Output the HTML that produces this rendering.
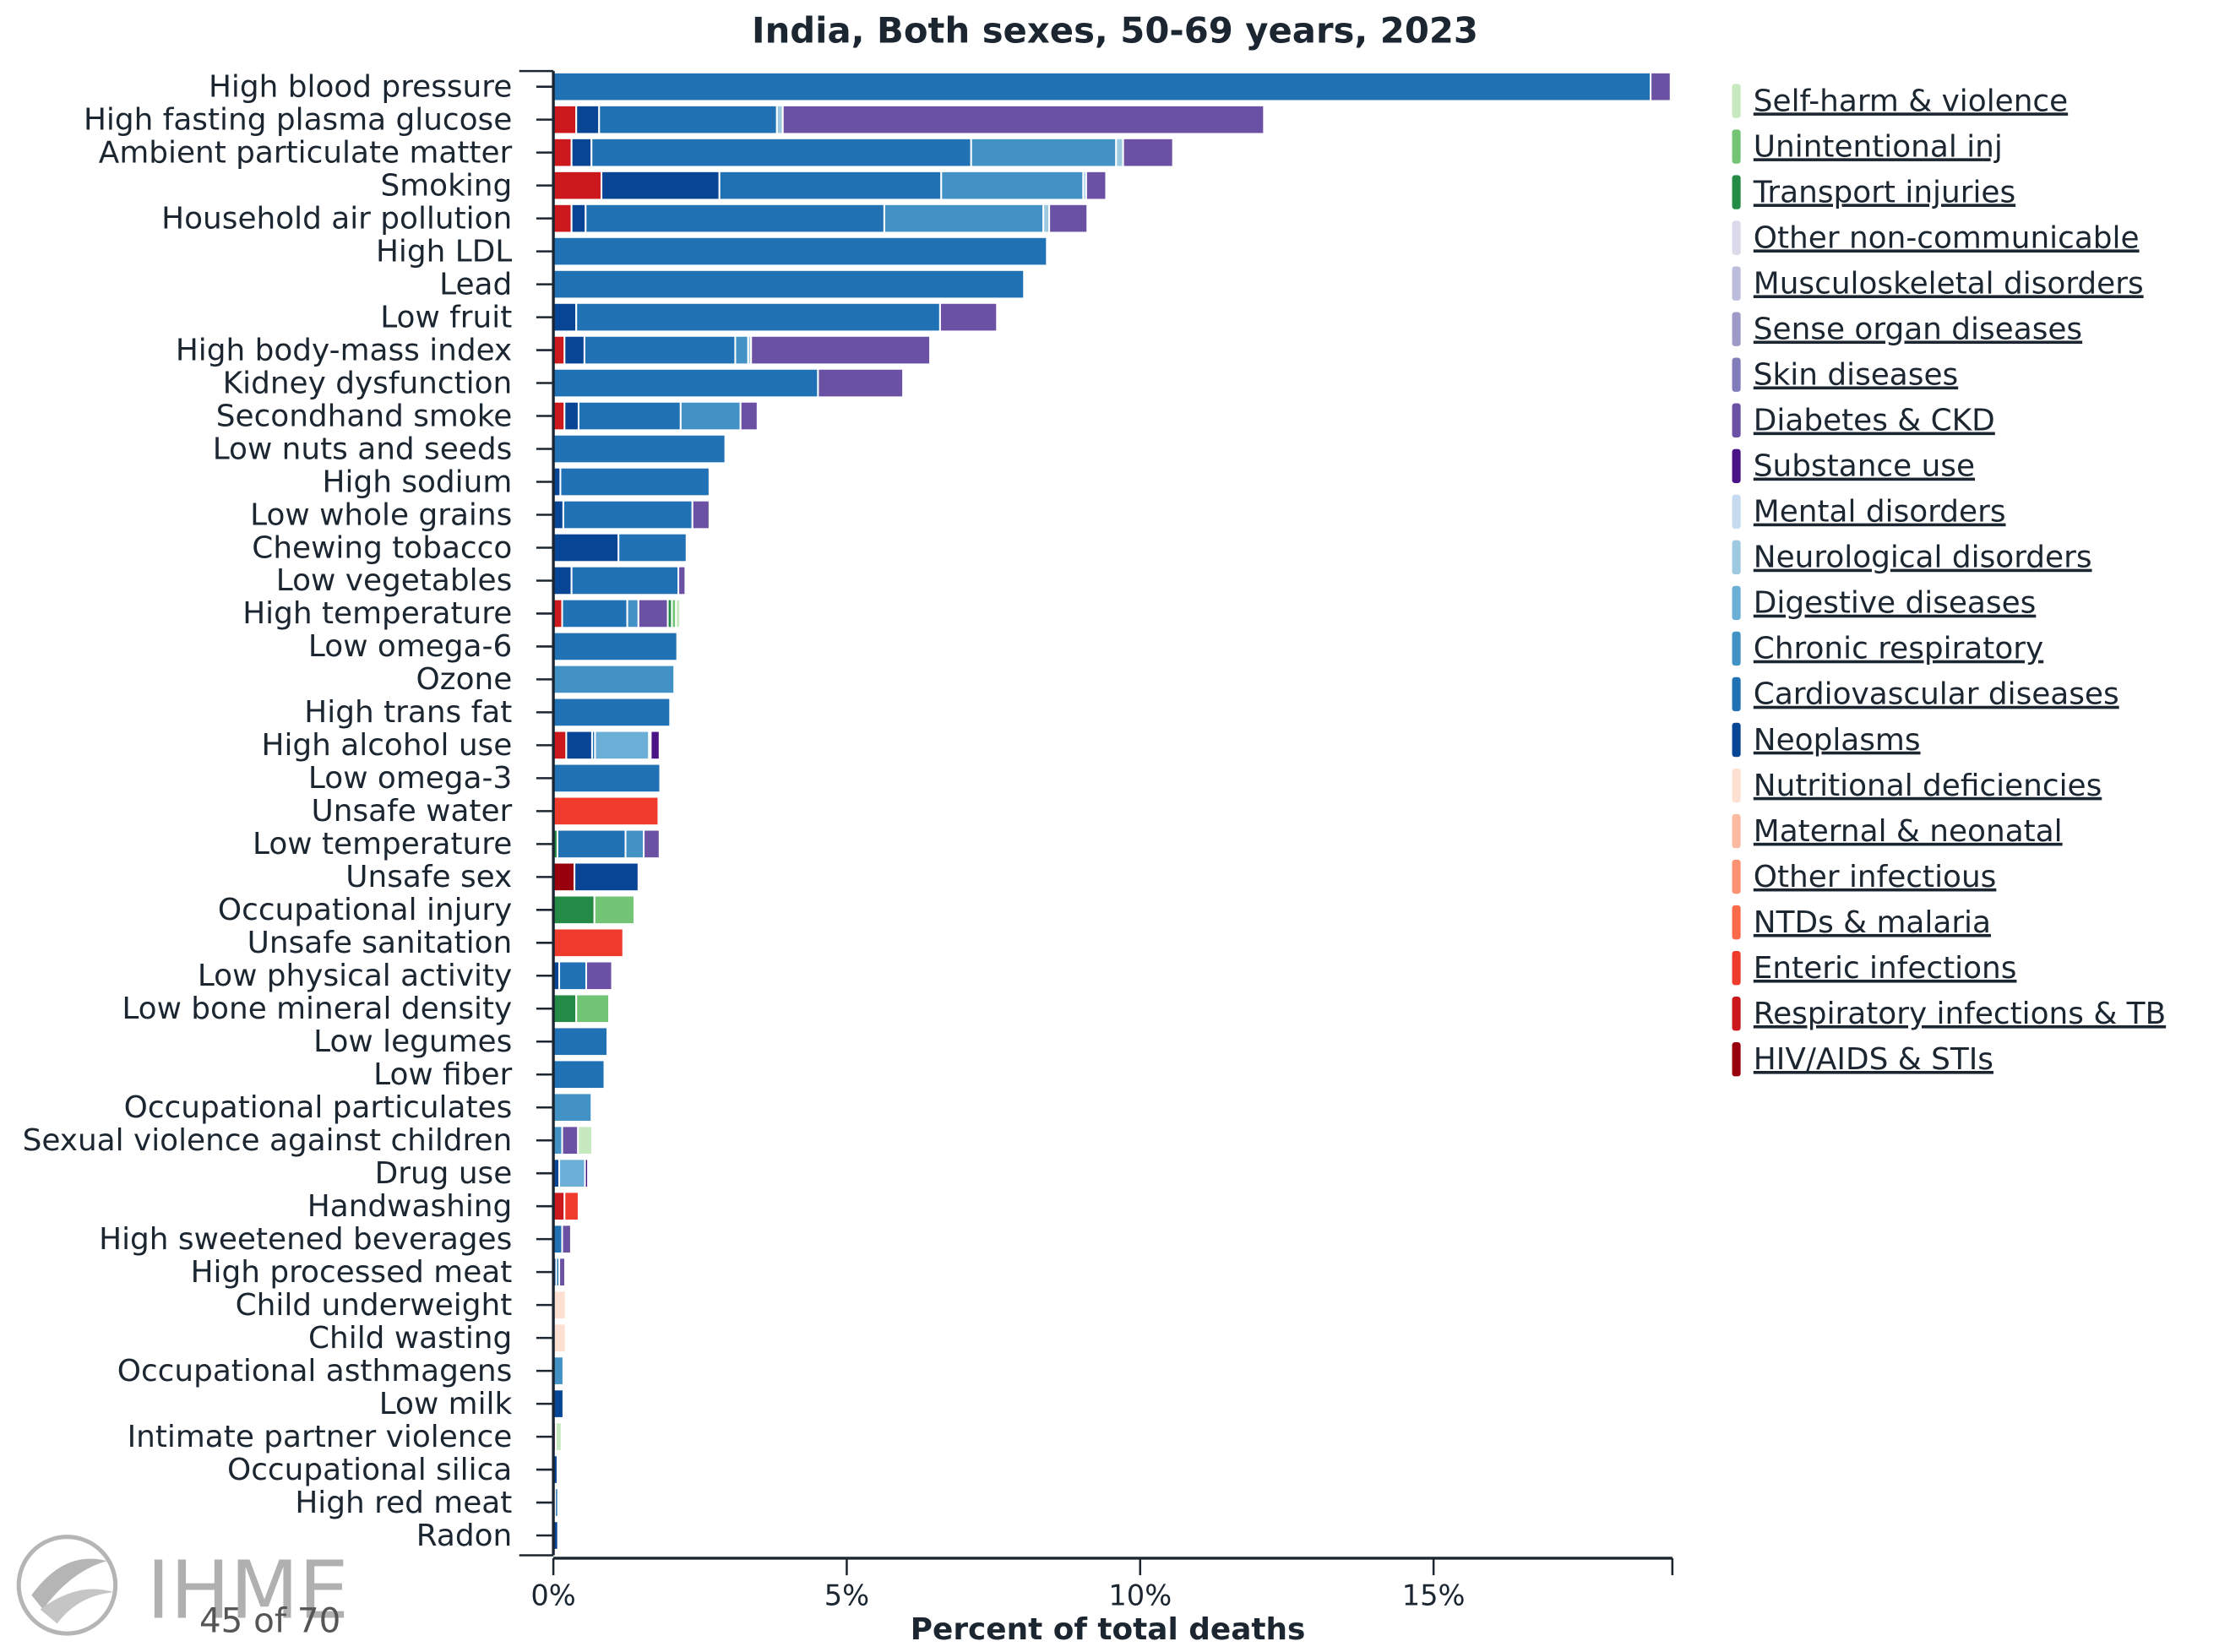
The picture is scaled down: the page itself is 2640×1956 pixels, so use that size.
<!DOCTYPE html>
<html><head><meta charset="utf-8">
<style>
html,body{margin:0;padding:0;background:#fff;}
svg{display:block;}
text{font-family:"DejaVu Sans","Liberation Sans",sans-serif;fill:#1b2631;}
</style></head>
<body>
<svg id="chart" width="2640" height="1956" viewBox="0 0 1568 1162" xmlns="http://www.w3.org/2000/svg">
<text x="784" y="30" text-anchor="middle" font-size="24.8" font-weight="bold">India, Both sexes, 50-69 years, 2023</text>
<g id="bars"></g>
<g id="yaxis"></g>
<g id="xaxis"></g>
<g id="legend"></g>
<text x="779" y="1153" text-anchor="middle" font-size="21.3" font-weight="bold">Percent of total deaths</text>
<g>
<circle cx="47" cy="1115" r="34" fill="none" stroke="#b5b5b5" stroke-width="3"/>
<path d="M22 1122 Q45 1090 75 1098 Q50 1105 30 1132 Z" fill="#b5b5b5"/>
<path d="M28 1132 Q55 1112 80 1120 Q55 1122 40 1142 Z" fill="#c5c5c5"/>
<text x="103" y="1138" font-size="56" fill="#b0b0b0" style="fill:#b0b0b0">IHME</text>
</g>
<text x="140" y="1148" font-size="24" style="fill:#555">45 of 70</text>
</svg>
<script>
const causes = ["HIV/AIDS & STIs","Respiratory infections & TB","Enteric infections","NTDs & malaria","Other infectious","Maternal & neonatal","Nutritional deficiencies","Neoplasms","Cardiovascular diseases","Chronic respiratory","Digestive diseases","Neurological disorders","Mental disorders","Substance use","Diabetes & CKD","Skin diseases","Sense organ diseases","Musculoskeletal disorders","Other non-communicable","Transport injuries","Unintentional inj","Self-harm & violence"];
const causeColors = ["#99000d","#cb181d","#ef3b2c","#fb6a4a","#fc9272","#fcbba1","#fee0d2","#084594","#2171b5","#4292c6","#6baed6","#9ecae1","#c6dbef","#4a1486","#6a51a3","#807dba","#9e9ac8","#bcbddc","#dadaeb","#238b45","#74c476","#c7e9c0"];
const riskFactors = ["High blood pressure","High fasting plasma glucose","Ambient particulate matter","Smoking","Household air pollution","High LDL","Lead","Low fruit","High body-mass index","Kidney dysfunction","Secondhand smoke","Low nuts and seeds","High sodium","Low whole grains","Chewing tobacco","Low vegetables","High temperature","Low omega-6","Ozone","High trans fat","High alcohol use","Low omega-3","Unsafe water","Low temperature","Unsafe sex","Occupational injury","Unsafe sanitation","Low physical activity","Low bone mineral density","Low legumes","Low fiber","Occupational particulates","Sexual violence against children","Drug use","Handwashing","High sweetened beverages","High processed meat","Child underweight","Child wasting","Occupational asthmagens","Low milk","Intimate partner violence","Occupational silica","High red meat","Radon"];
// [cause index, percent]
const segments = [
[[8,18.7],[14,0.34]],
[[1,0.39],[7,0.39],[8,3.03],[11,0.1],[14,8.2]],
[[1,0.31],[7,0.34],[8,6.47],[9,2.47],[11,0.12],[14,0.85]],
[[1,0.82],[7,2.01],[8,3.78],[9,2.42],[11,0.05],[14,0.34]],
[[1,0.31],[7,0.24],[8,5.09],[9,2.71],[11,0.1],[14,0.65]],
[[8,8.41]],
[[8,8.02]],
[[7,0.39],[8,6.2],[14,0.97]],
[[1,0.19],[7,0.34],[8,2.57],[9,0.22],[11,0.05],[14,3.05]],
[[8,4.51],[14,1.45]],
[[1,0.19],[7,0.24],[8,1.74],[9,1.02],[14,0.29]],
[[8,2.93]],
[[7,0.12],[8,2.54]],
[[7,0.17],[8,2.2],[14,0.29]],
[[7,1.11],[8,1.16]],
[[7,0.31],[8,1.82],[14,0.12]],
[[1,0.15],[8,1.11],[9,0.19],[14,0.5],[19,0.07],[20,0.07],[21,0.07]],
[[8,2.11]],
[[9,2.06]],
[[8,1.99]],
[[1,0.22],[7,0.44],[8,0.05],[10,0.92],[11,0.03],[13,0.15]],
[[8,1.82]],
[[2,1.79]],
[[19,0.07],[8,1.16],[9,0.31],[14,0.27]],
[[0,0.36],[7,1.09]],
[[19,0.7],[20,0.68]],
[[2,1.19]],
[[7,0.1],[8,0.46],[14,0.44]],
[[19,0.39],[20,0.56]],
[[8,0.92]],
[[8,0.87]],
[[9,0.65]],
[[9,0.15],[14,0.27],[21,0.24]],
[[7,0.1],[10,0.44],[13,0.05]],
[[1,0.19],[2,0.24]],
[[8,0.15],[14,0.15]],
[[7,0.05],[8,0.05],[14,0.1]],
[[6,0.21]],
[[6,0.21]],
[[9,0.17]],
[[7,0.17]],
[[0,0.04],[21,0.1]],
[[7,0.07]],
[[7,0.03],[8,0.05]],
[[7,0.08]]
];
const xTicks = [0,5,10,15];
const xTickLabels = ["0%","5%","10%","15%"];
const xMax = 19.07;

const NS="http://www.w3.org/2000/svg";
const x0=389, x1=1176, yTop=61, rowStep=23.16, barH=20;
const xScale = v => x0 + v*(x1-x0)/xMax;
const yScale = i => yTop + i*rowStep;
function mk(tag, attrs, parent){const e=document.createElementNS(NS,tag);for(const k in attrs)e.setAttribute(k,attrs[k]);parent.appendChild(e);return e;}

const bars=document.getElementById('bars');
segments.forEach((row,i)=>{
  let acc=0;
  row.forEach(([c,v])=>{
    const r=mk('rect',{x:xScale(acc),y:yScale(i)-barH/2,width:Math.max(xScale(acc+v)-xScale(acc),0.5),height:barH,fill:causeColors[c],stroke:'#fff','stroke-width':1.2},bars);
    
    
    acc+=v;
  });
});

const yaxis=document.getElementById('yaxis');
mk('line',{x1:x0,y1:50,x2:x0,y2:1094,stroke:'#1b2631','stroke-width':2},yaxis);
riskFactors.forEach((n,i)=>{
  mk('line',{x1:x0-12,y1:yScale(i),x2:x0,y2:yScale(i),stroke:'#1b2631','stroke-width':1.5},yaxis);
  const t=mk('text',{x:x0-29,y:yScale(i)+7,'text-anchor':'end','font-size':21.3},yaxis);
  t.textContent=n;
  
  
});
mk('line',{x1:365,y1:50,x2:x0,y2:50,stroke:'#1b2631','stroke-width':1.5},yaxis);
mk('line',{x1:365,y1:1094,x2:x0,y2:1094,stroke:'#1b2631','stroke-width':1.5},yaxis);

const xaxis=document.getElementById('xaxis');
mk('line',{x1:x0,y1:1096,x2:x1,y2:1096,stroke:'#1b2631','stroke-width':2},xaxis);
mk('line',{x1:x1,y1:1096,x2:x1,y2:1108,stroke:'#1b2631','stroke-width':1.5},xaxis);
xTicks.forEach((v,i)=>{
  mk('line',{x1:xScale(v),y1:1096,x2:xScale(v),y2:1108,stroke:'#1b2631','stroke-width':1.5},xaxis);
  const t=mk('text',{x:xScale(v),y:1129,'text-anchor':'middle','font-size':20},xaxis);
  t.textContent=xTickLabels[i];
  
  
});

const legend=document.getElementById('legend');
for(let k=causes.length-1, j=0;k>=0;k--,j++){
  const y=71+j*32.1;
  const g=mk('g',{},legend);
  
  
  mk('rect',{x:1218,y:y-12,width:6,height:24,rx:2,fill:causeColors[k]},g);
  const t=mk('text',{x:1233,y:y+7,'font-size':21.3,'text-decoration':'underline'},g);
  t.textContent=causes[k];
}
</script>
</body></html>
